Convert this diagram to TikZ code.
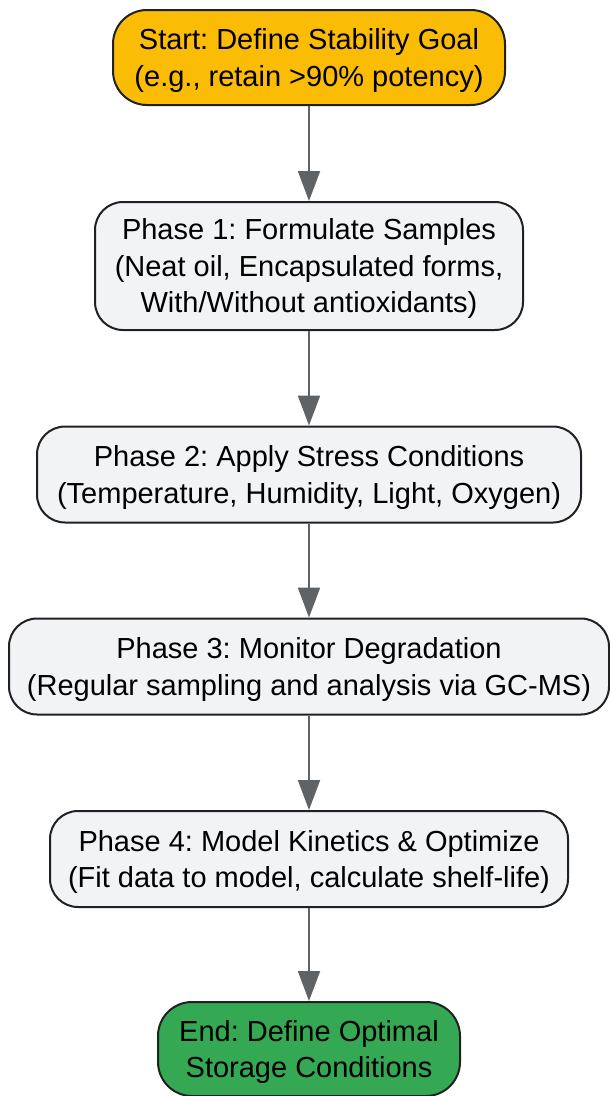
\documentclass[tikz,border=0pt]{standalone}
\usepackage{fontspec}
\setmainfont{Liberation Sans}
\usetikzlibrary{arrows.meta}
\frenchspacing
\definecolor{startc}{HTML}{FBBC05}
\definecolor{endc}{HTML}{34A853}
\definecolor{procc}{HTML}{F1F3F4}
\definecolor{edgec}{HTML}{202124}
\definecolor{arrc}{HTML}{5F6368}
\newcommand{\lowtext}[1]{\raisebox{-3pt}[\height][\depth]{\begin{tabular}{@{}c@{}}#1\end{tabular}}}
\tikzset{
  box/.style={draw=edgec, line width=2pt, rounded corners=28pt,
    font=\fontsize{29}{36.5}\selectfont, inner sep=0pt, text=black},
  proc/.style={box, fill=procc},
  term/.style={box, rounded corners=34pt},
  flow/.style={draw=arrc, line width=2pt, -{Triangle[length=30pt,width=22pt]}}
}
\begin{document}
\begin{tikzpicture}[x=1pt,y=-1pt]
\useasboundingbox (0,0) rectangle (610,1096);
\node[term, fill=startc, minimum width=392pt, minimum height=95pt] (n1) at (309,57.5)
  {\lowtext{Start: Define Stability Goal\\(e.g., retain >90\% potency)}};
\node[proc, minimum width=428pt, minimum height=128pt] (n2) at (309,266)
  {\lowtext{Phase 1: Formulate Samples\\(Neat oil, Encapsulated forms,\\With/Without antioxidants)}};
\node[proc, minimum width=544pt, minimum height=96pt] (n3) at (309,474.5)
  {\lowtext{Phase 2: Apply Stress Conditions\\(Temperature, Humidity, Light, Oxygen)}};
\node[proc, minimum width=600pt, minimum height=96pt] (n4) at (309,666.5)
  {\lowtext{Phase 3: Monitor Degradation\\(Regular sampling and analysis via GC-MS)}};
\node[proc, minimum width=518pt, minimum height=96pt] (n5) at (309,859)
  {\lowtext{Phase 4: Model Kinetics \& Optimize\\(Fit data to model, calculate shelf-life)}};
\node[term, fill=endc, minimum width=302pt, minimum height=94pt] (n6) at (309,1049)
  {\lowtext{End: Define Optimal\\Storage Conditions}};
\draw[flow] (n1) -- (n2);
\draw[flow] (n2) -- (n3);
\draw[flow] (n3) -- (n4);
\draw[flow] (n4) -- (n5);
\draw[flow] (n5) -- (n6);
\end{tikzpicture}
\end{document}
